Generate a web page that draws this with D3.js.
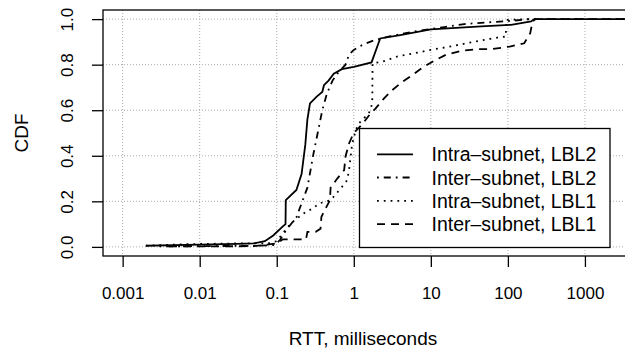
<!DOCTYPE html>
<html>
<head>
<meta charset="utf-8">
<style>
  body { margin: 0; background: #fff; }
  text { font-family: "Liberation Sans", Arial, sans-serif; fill: #000; }
  .grid line { stroke: #aaa; stroke-width: 1px; stroke-dasharray: 1,2; }
  .series { fill: none; stroke: #000; stroke-width: 1.8px; }
</style>
</head>
<body>
<div id="chart"></div>
<script src="https://d3js.org/d3.v7.min.js"></script>
<script>

// tick labels
var xTicks = [0.001, 0.01, 0.1, 1, 10, 100, 1000];
var xTickLabels = ["0.001", "0.01", "0.1", "1", "10", "100", "1000"];
var yTicks = [0, 0.2, 0.4, 0.6, 0.8, 1.0];
var yTickLabels = ["0.0", "0.2", "0.4", "0.6", "0.8", "1.0"];

// series names (legend order)
var seriesNames = ["Intra\u2013subnet, LBL2", "Inter\u2013subnet, LBL2", "Intra\u2013subnet, LBL1", "Inter\u2013subnet, LBL1"];

// Intra-subnet, LBL2 (solid)
var intraLbl2Rtt = [0.002, 0.01, 0.03, 0.05, 0.07, 0.09, 0.12, 0.13, 0.131, 0.18, 0.21, 0.235, 0.25, 0.27, 0.33, 0.39, 0.41, 0.47, 0.55, 0.7, 1.0, 1.7, 2.2, 4, 10, 45, 110, 200, 220, 3500];
var intraLbl2Cdf = [0.005, 0.01, 0.013, 0.015, 0.025, 0.05, 0.09, 0.10, 0.205, 0.25, 0.32, 0.45, 0.56, 0.63, 0.66, 0.68, 0.71, 0.73, 0.76, 0.78, 0.79, 0.81, 0.915, 0.93, 0.955, 0.968, 0.975, 0.99, 1.0, 1.0];

// Inter-subnet, LBL2 (dot-dash)
var interLbl2Rtt = [0.003, 0.02, 0.06, 0.095, 0.11, 0.13, 0.18, 0.25, 0.3, 0.34, 0.39, 0.45, 0.53, 0.61, 0.78, 0.87, 1.0, 1.3, 1.8, 3, 6, 15, 27, 50, 90, 200];
var interLbl2Cdf = [0.002, 0.004, 0.005, 0.008, 0.03, 0.07, 0.13, 0.26, 0.41, 0.5, 0.6, 0.675, 0.73, 0.76, 0.80, 0.845, 0.865, 0.887, 0.906, 0.925, 0.945, 0.965, 0.978, 0.985, 0.99, 1.0];

// Intra-subnet, LBL1 (dotted)
var intraLbl1Rtt = [0.002, 0.007, 0.03, 0.08, 0.1, 0.14, 0.17, 0.24, 0.3, 0.35, 0.5, 0.68, 0.82, 0.87, 0.95, 1.06, 1.17, 1.57, 1.69, 1.74, 1.75, 2.35, 3.7, 6.7, 10, 18, 36, 73, 94, 95, 200, 3500];
var intraLbl1Cdf = [0.005, 0.012, 0.015, 0.016, 0.025, 0.088, 0.117, 0.154, 0.17, 0.19, 0.205, 0.257, 0.293, 0.34, 0.45, 0.513, 0.543, 0.587, 0.616, 0.65, 0.806, 0.813, 0.836, 0.853, 0.865, 0.88, 0.90, 0.919, 0.923, 0.997, 1.0, 1.0];

// Inter-subnet, LBL1 (dashed)
var interLbl1Rtt = [0.004, 0.05, 0.1, 0.12, 0.24, 0.25, 0.32, 0.37, 0.38, 0.49, 0.5, 0.61, 0.75, 0.78, 0.87, 1.0, 1.3, 1.6, 1.92, 2.47, 3.17, 4.27, 5.77, 7.78, 10.5, 15.6, 25.7, 40, 60, 109, 163, 195, 209, 230, 3500];
var interLbl1Cdf = [0.002, 0.003, 0.015, 0.033, 0.033, 0.066, 0.066, 0.08, 0.132, 0.205, 0.26, 0.30, 0.337, 0.396, 0.455, 0.50, 0.54, 0.58, 0.608, 0.652, 0.689, 0.725, 0.755, 0.787, 0.813, 0.843, 0.862, 0.868, 0.868, 0.88, 0.894, 0.938, 0.99, 1.0, 1.0];

var seriesRtt = [intraLbl2Rtt, interLbl2Rtt, intraLbl1Rtt, interLbl1Rtt];
var seriesCdf = [intraLbl2Cdf, interLbl2Cdf, intraLbl1Cdf, interLbl1Cdf];
var dashes = ["none", "1.8,5,7,5", "1.8,5", "8,6"];

var W = 625, H = 351;
var plot = {left: 103, top: 10, right: 627, bottom: 256};

var svg = d3.select("#chart").append("svg")
    .attr("width", W)
    .attr("height", H);

// scales (R style 4% padding)
var x = d3.scaleLog().domain([Math.pow(10, -3.255), Math.pow(10, 3.546)]).range([plot.left, plot.right]);
var y = d3.scaleLinear().domain([-0.04, 1.04]).range([plot.bottom, plot.top]);

// grid
var grid = svg.append("g").attr("class", "grid");
grid.selectAll(".gx").data(xTicks).enter().append("line")
    .attr("x1", function(d) { return x(d); })
    .attr("x2", function(d) { return x(d); })
    .attr("y1", plot.top)
    .attr("y2", plot.bottom);
grid.selectAll(".gy").data(yTicks).enter().append("line")
    .attr("x1", plot.left)
    .attr("x2", plot.right)
    .attr("y1", function(d) { return y(d); })
    .attr("y2", function(d) { return y(d); });

// curves
var line = d3.line()
    .x(function(d) { return x(d[0]); })
    .y(function(d) { return y(d[1]); });

seriesRtt.forEach(function(rtt, i) {
  var pts = rtt.map(function(v, j) { return [v, seriesCdf[i][j]]; });
  svg.append("path")
      .datum(pts)
      .attr("class", "series")
      .attr("stroke-dasharray", dashes[i])
      .attr("d", line);
});

// box
svg.append("rect")
    .attr("x", plot.left)
    .attr("y", plot.top)
    .attr("width", plot.right - plot.left)
    .attr("height", plot.bottom - plot.top)
    .attr("fill", "none")
    .attr("stroke", "#000")
    .attr("stroke-width", 1.3);

// x axis
var xAxis = svg.append("g")
    .attr("transform", "translate(0," + plot.bottom + ")")
    .call(d3.axisBottom(x)
      .tickValues(xTicks)
      .tickSize(11)
      .tickPadding(20)
      .tickFormat(function(d, i) { return xTickLabels[i]; }));
xAxis.select(".domain").remove();
xAxis.selectAll("line").attr("stroke", "#000").attr("stroke-width", 1.3);
xAxis.selectAll("text")
    .attr("font-family", "Liberation Sans, Arial, sans-serif")
    .attr("font-size", "17px")
    .attr("dy", null)
    .attr("y", 43);

// y axis
var yAxis = svg.append("g")
    .attr("transform", "translate(" + plot.left + ",0)")
    .call(d3.axisLeft(y)
      .tickValues(yTicks)
      .tickSize(11)
      .tickFormat(function(d, i) { return yTickLabels[i]; }));
yAxis.select(".domain").remove();
yAxis.selectAll("line").attr("stroke", "#000").attr("stroke-width", 1.3);
yAxis.selectAll("text")
    .attr("font-family", "Liberation Sans, Arial, sans-serif")
    .attr("font-size", "17px")
    .attr("x", null)
    .attr("dy", null)
    .attr("text-anchor", "middle")
    .attr("transform", "translate(-30,0) rotate(-90)");

// axis titles
svg.append("text")
    .attr("x", (plot.left + plot.right) / 2 - 2)
    .attr("y", 345)
    .attr("text-anchor", "middle")
    .attr("font-size", "19px")
    .text("RTT, milliseconds");

svg.append("text")
    .attr("transform", "translate(28," + ((plot.top + plot.bottom) / 2) + ") rotate(-90)")
    .attr("text-anchor", "middle")
    .attr("font-size", "19px")
    .text("CDF");

// legend
var legend = svg.append("g");
legend.append("rect")
    .attr("x", 359.5)
    .attr("y", 128.5)
    .attr("width", 250.5)
    .attr("height", 119)
    .attr("fill", "#fff")
    .attr("stroke", "#000")
    .attr("stroke-width", 1.3);

var rowY = [154.3, 177.5, 200.8, 224.2];
seriesNames.forEach(function(name, i) {
  legend.append("line")
      .attr("x1", 377)
      .attr("x2", 413)
      .attr("y1", rowY[i])
      .attr("y2", rowY[i])
      .attr("stroke", "#000")
      .attr("stroke-width", 1.8)
      .attr("stroke-dasharray", dashes[i]);
  legend.append("text")
      .attr("x", 431.5)
      .attr("y", rowY[i] + 7)
      .attr("font-size", "19.5px")
      .text(name);
});

</script>
</body>
</html>
